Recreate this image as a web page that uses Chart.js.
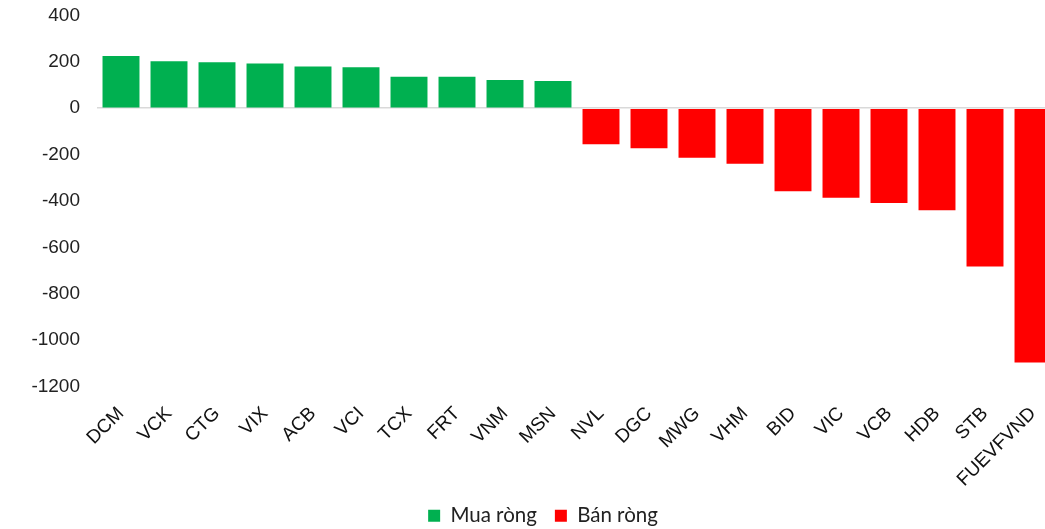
<!DOCTYPE html>
<html>
<head>
<meta charset="utf-8">
<script src="https://cdn.jsdelivr.net/npm/chart.js@4.4.1/dist/chart.umd.min.js"></script>
<style>
html,body{margin:0;padding:0;background:#fff;overflow:hidden;}
#wrap{width:1060px;height:550px;position:relative;margin-top:-13px;}
</style>
</head>
<body>
<div id="wrap"><canvas id="c"></canvas></div>
<script>
const categories = ["DCM","VCK","CTG","VIX","ACB","VCI","TCX","FRT","VNM","MSN","NVL","DGC","MWG","VHM","BID","VIC","VCB","HDB","STB","FUEVFVND"];
const buyValues = [225,202,198,193,180,176,136,136,121,117,null,null,null,null,null,null,null,null,null,null];
const sellValues = [null,null,null,null,null,null,null,null,null,null,-155,-173,-214,-240,-358,-386,-409,-440,-683,-1097];
const yTicks = [400,200,0,-200,-400,-600,-800,-1000,-1200];
const seriesNames = ["Mua ròng","Bán ròng"];

const FONT = "'Liberation Sans', Arial, sans-serif";
new Chart(document.getElementById('c'), {
  type: 'bar',
  data: {
    labels: categories,
    datasets: [
      {label: seriesNames[0], data: buyValues, backgroundColor: '#00B050', borderWidth: 0, barPercentage: 0.77, categoryPercentage: 1.0},
      {label: seriesNames[1], data: sellValues, backgroundColor: '#FF0000', borderWidth: 0, barPercentage: 0.77, categoryPercentage: 1.0}
    ]
  },
  options: {
    responsive: true,
    maintainAspectRatio: false,
    animation: false,
    layout: {padding: {top: 2, left: 29, right: 3, bottom: 1}},
    plugins: {
      legend: {
        position: 'bottom',
        labels: {boxWidth: 12, boxHeight: 12, padding: 18, color: '#222', font: {family: "Lato, 'Open Sans', sans-serif", size: 20.5}}
      },
      tooltip: {enabled: false}
    },
    scales: {
      x: {
        stacked: true,
        grid: {display: false},
        border: {display: false},
        ticks: {color: '#111', maxRotation: 45, minRotation: 45, autoSkip: false, padding: 8, font: {family: FONT, size: 19}},
        afterFit: s => { s.height = 101; }
      },
      y: {
        stacked: true,
        min: -1200, max: 400,
        afterBuildTicks: s => { s.ticks = yTicks.map(v => ({value: v})); },
        afterFit: s => { s.width = 68; },
        border: {display: false},
        grid: {
          drawTicks: false,
          color: ctx => ctx.tick && ctx.tick.value === 0 ? '#d9d9d9' : 'rgba(0,0,0,0)',
          lineWidth: 1.5
        },
        ticks: {color: '#222', padding: 17, font: {family: FONT, size: 19}, callback: v => String(v)}
      }
    }
  }
});
</script>
</body>
</html>
